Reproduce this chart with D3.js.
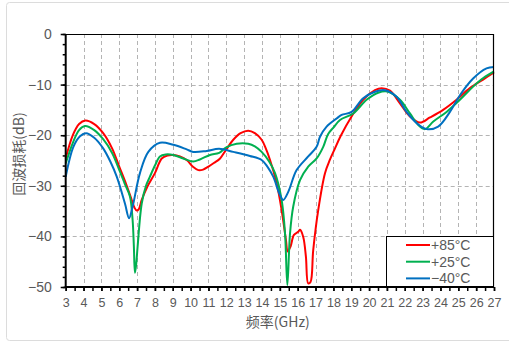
<!DOCTYPE html>
<html>
<head>
<meta charset="utf-8">
<script src="https://cdn.jsdelivr.net/npm/d3@7"></script>
<style>
  html, body { margin: 0; padding: 0; background: #fff; }
  svg { display: block; }
</style>
</head>
<body>
<svg id="chart" width="509" height="348"></svg>
<script>
// Return loss measured at three temperatures, 3–27 GHz
const freqRed = [3.0, 3.4, 3.75, 4.1, 4.6, 5.1, 5.6, 6.0, 6.4, 6.7, 6.85, 6.98, 7.1, 7.26, 7.6, 8.0, 8.38, 8.7, 9.03, 9.4, 9.78, 10.15, 10.43, 10.7, 11.0, 11.3, 11.65, 12.0, 12.39, 12.8, 13.23, 13.6, 13.98, 14.2, 14.45, 14.82, 15.1, 15.34, 15.44, 15.6, 15.79, 16.03, 16.13, 16.31, 16.46, 16.59, 16.72, 16.87, 17.15, 17.53, 17.8, 18.09, 18.4, 19.02, 19.67, 20.33, 20.7, 21.17, 21.73, 22.29, 22.85, 23.41, 24.15, 24.9, 25.65, 26.39, 27.0];
const lossRed = [-24.6, -20.0, -17.8, -17.1, -17.8, -19.6, -22.6, -26.2, -29.8, -32.8, -34.3, -34.9, -34.6, -32.8, -30.0, -27.5, -24.6, -24.0, -23.9, -24.2, -24.9, -26.3, -26.9, -26.8, -26.2, -25.5, -24.6, -22.8, -20.9, -19.6, -19.1, -19.6, -20.9, -22.5, -24.9, -29.5, -34.8, -40.7, -43.0, -42.0, -39.7, -39.1, -38.7, -40.1, -44.0, -49.3, -49.0, -42.7, -34.8, -27.5, -24.9, -22.6, -20.2, -16.3, -13.0, -11.1, -10.7, -11.2, -13.7, -16.3, -17.5, -16.5, -15.0, -13.0, -10.7, -9.0, -7.6];

const freqGreen = [3.0, 3.4, 3.75, 4.08, 4.6, 5.1, 5.6, 6.04, 6.3, 6.6, 6.75, 6.82, 6.88, 6.95, 7.03, 7.26, 7.5, 7.72, 8.0, 8.28, 8.6, 9.03, 9.59, 10.15, 10.52, 11.08, 11.6, 12.0, 12.58, 13.23, 13.6, 13.98, 14.4, 14.73, 15.1, 15.29, 15.42, 15.57, 15.75, 16.13, 16.59, 17.06, 17.43, 17.7, 18.0, 18.37, 19.11, 19.86, 20.51, 21.07, 21.73, 22.29, 22.76, 23.13, 23.6, 24.34, 25.09, 25.83, 26.4, 27.0];
const lossGreen = [-25.6, -21.5, -19.0, -18.2, -19.0, -20.8, -23.5, -27.2, -29.5, -32.1, -36.8, -42.0, -47.2, -45.5, -42.0, -33.5, -30.0, -28.2, -26.0, -24.2, -23.8, -23.9, -24.6, -25.2, -24.8, -23.9, -23.5, -22.4, -21.7, -21.7, -22.2, -23.3, -25.2, -27.5, -32.8, -39.4, -49.6, -39.4, -34.1, -28.9, -26.2, -24.6, -22.3, -19.8, -18.5, -17.0, -15.7, -13.0, -11.6, -11.4, -13.0, -15.7, -18.0, -18.8, -17.3, -15.4, -13.0, -10.4, -8.7, -7.4];

const freqBlue = [3.0, 3.43, 3.8, 4.14, 4.6, 5.1, 5.5, 5.86, 6.32, 6.55, 6.75, 7.16, 7.63, 8.28, 9.03, 9.78, 10.15, 10.9, 11.6, 12.39, 13.32, 13.98, 14.3, 14.63, 15.0, 15.19, 15.47, 15.94, 16.59, 17.06, 17.25, 17.62, 18.18, 18.46, 19.02, 19.67, 20.33, 20.89, 21.54, 22.1, 22.66, 23.22, 23.87, 24.53, 25.09, 25.83, 26.58, 27.0];
const lossBlue = [-28.2, -22.3, -20.2, -19.6, -20.5, -22.6, -25.2, -28.2, -33.5, -36.4, -34.1, -27.5, -23.3, -21.5, -21.9, -22.8, -23.3, -23.1, -22.7, -23.3, -24.1, -24.9, -26.2, -28.2, -31.8, -32.8, -31.2, -26.9, -24.2, -22.3, -20.3, -18.3, -16.7, -16.0, -15.4, -12.7, -11.4, -11.1, -12.4, -15.4, -17.6, -18.8, -18.3, -15.4, -12.1, -8.8, -6.8, -6.5];

const seriesNames = ["+85°C", "+25°C", "\u221240°C"];
const seriesColors = ["#ff0000", "#00b050", "#0070c0"];
const xTicks = d3.range(3, 28, 1);
const yTicks = [0, -10, -20, -30, -40, -50];
const xTitle = "频率(GHz)";
const yTitle = "回波损耗(dB)";

(function drawChart() {
  const series = [
    { name: seriesNames[0], color: seriesColors[0], pts: freqRed.map((f, i) => [f, lossRed[i]]) },
    { name: seriesNames[1], color: seriesColors[1], pts: freqGreen.map((f, i) => [f, lossGreen[i]]) },
    { name: seriesNames[2], color: seriesColors[2], pts: freqBlue.map((f, i) => [f, lossBlue[i]]) }
  ];

  const svg = d3.select("#chart");
  const pl = 65.7, pr = 494, pt = 34, pb = 287;
  const x = d3.scaleLinear().domain([3, 27]).range([pl, pr]);
  const y = d3.scaleLinear().domain([-50, 0]).range([pb, pt]);
  const numFont = "'Liberation Sans', Arial, sans-serif";
  const cjkFont = "'Noto Sans CJK SC', sans-serif";
  const textColor = "#595959";

  // outer card
  svg.append("rect")
    .attr("x", 6.5).attr("y", 2.5).attr("width", 510).attr("height", 338)
    .attr("rx", 3).attr("fill", "#fff").attr("stroke", "#dcdcdc").attr("stroke-width", 1);

  // dashed grid
  const grid = svg.append("g").attr("stroke", "#b4b4b4").attr("stroke-dasharray", "4,3").attr("stroke-width", 1);
  grid.selectAll("line.v").data(xTicks.filter(d => d > 3 && d < 27)).join("line").attr("class", "v")
    .attr("x1", d => Math.round(x(d)) + 0.5).attr("x2", d => Math.round(x(d)) + 0.5)
    .attr("y1", pt).attr("y2", pb);
  grid.selectAll("line.h").data(yTicks.filter(d => d < 0 && d > -50)).join("line").attr("class", "h")
    .attr("y1", d => Math.round(y(d)) + 0.5).attr("y2", d => Math.round(y(d)) + 0.5)
    .attr("x1", pl).attr("x2", pr);

  // curves
  const line = d3.line().x(d => x(d[0])).y(d => y(d[1])).curve(d3.curveCatmullRom.alpha(0.5));
  svg.append("g").selectAll("path").data(series).join("path")
    .attr("d", d => line(d.pts))
    .attr("fill", "none")
    .attr("stroke", d => d.color)
    .attr("stroke-width", 2)
    .attr("stroke-linejoin", "round");

  // top / right frame
  svg.append("path")
    .attr("d", `M${pl},${pt + 0.5}H${pr - 0.5}V${pb}`)
    .attr("fill", "none").attr("stroke", "#000").attr("stroke-width", 1.2);

  // y axis with minor ticks every 2 dB
  const yAxis = svg.append("g").attr("transform", `translate(${pl},0)`);
  yAxis.append("g").call(d3.axisLeft(y).tickValues(d3.range(-50, 1, 2)).tickSize(3).tickFormat(""))
    .call(g => g.select(".domain").remove());
  yAxis.append("g").call(d3.axisLeft(y).tickValues(yTicks).tickSize(5).tickPadding(9).tickFormat(d3.format("d")))
    .call(g => g.select(".domain").remove())
    .call(g => g.selectAll("text").attr("font-family", numFont).attr("font-size", 14).attr("fill", textColor));
  yAxis.selectAll(".tick line").attr("stroke", "#000").attr("stroke-width", 1.5);

  // x axis with minor ticks every 0.5 GHz
  const xAxis = svg.append("g").attr("transform", `translate(0,${pb})`);
  xAxis.append("g").call(d3.axisBottom(x).tickValues(d3.range(3, 27.01, 0.5)).tickSize(4).tickFormat(""))
    .call(g => g.select(".domain").remove());
  xAxis.append("g").call(d3.axisBottom(x).tickValues(xTicks).tickSize(4).tickPadding(7).tickFormat(d3.format("d")))
    .call(g => g.select(".domain").remove())
    .call(g => g.selectAll("text").attr("font-family", numFont).attr("font-size", 12.5).attr("fill", textColor));
  xAxis.selectAll(".tick line").attr("stroke", "#000").attr("stroke-width", 1.5);

  // axis lines
  svg.append("line").attr("x1", pl).attr("x2", pl).attr("y1", pt).attr("y2", pb + 1)
    .attr("stroke", "#000").attr("stroke-width", 2);
  svg.append("line").attr("x1", pl - 1).attr("x2", pr).attr("y1", pb).attr("y2", pb)
    .attr("stroke", "#000").attr("stroke-width", 2);

  // axis titles
  svg.append("text").attr("x", (pl + pr) / 2 - 2).attr("y", 327)
    .attr("text-anchor", "middle").attr("font-family", cjkFont).attr("font-size", 14)
    .attr("fill", textColor).text(xTitle);
  svg.append("text").attr("transform", `translate(24,154) rotate(-90)`)
    .attr("text-anchor", "middle").attr("font-family", cjkFont).attr("font-size", 14)
    .attr("fill", textColor).text(yTitle);

  // legend
  const lg = svg.append("g");
  lg.append("rect").attr("x", 386.5).attr("y", 236.5).attr("width", 107).attr("height", 50)
    .attr("fill", "#fff").attr("stroke", "#000").attr("stroke-width", 1);
  const rows = lg.selectAll("g.row").data(series).join("g").attr("class", "row")
    .attr("transform", (d, i) => `translate(0,${245 + i * 16.7})`);
  rows.append("line").attr("x1", 406).attr("x2", 430).attr("y1", 0).attr("y2", 0)
    .attr("stroke", d => d.color).attr("stroke-width", 2);
  rows.append("text").attr("x", 431).attr("y", 5).attr("font-family", numFont).attr("font-size", 14)
    .attr("fill", textColor).text(d => d.name);
})();
</script>
</body>
</html>
